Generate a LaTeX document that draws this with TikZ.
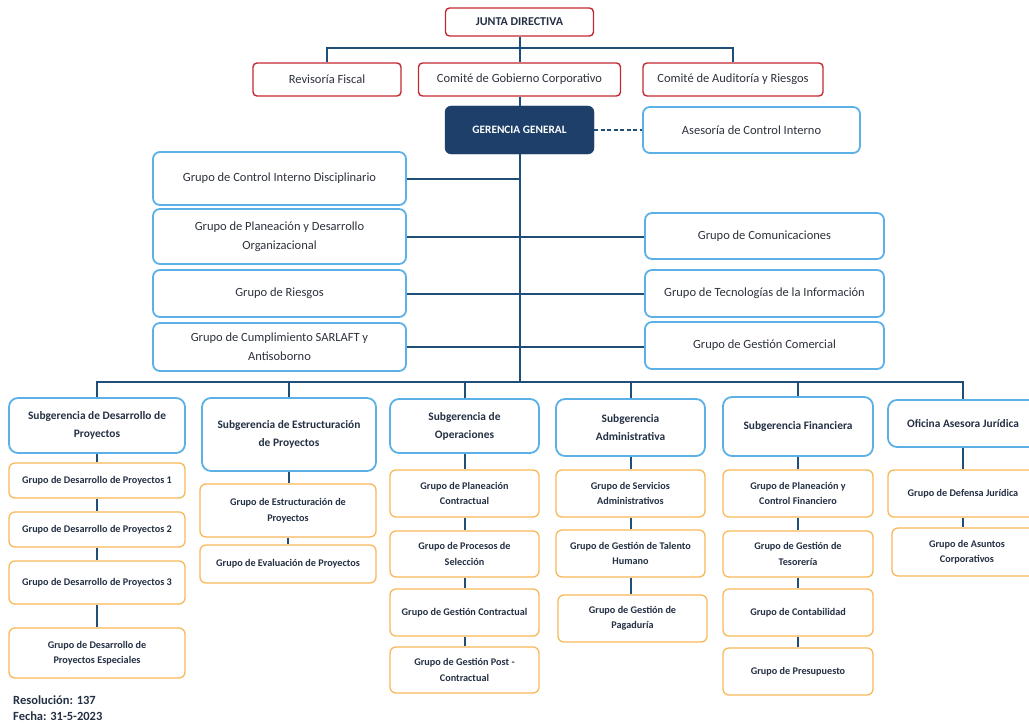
\documentclass[tikz,border=0pt]{standalone}
\usepackage{fontspec}
\setmainfont{Carlito}
\definecolor{jdred}{RGB}{196,40,50}
\definecolor{navy}{RGB}{31,78,121}
\definecolor{gfill}{RGB}{29,63,106}
\definecolor{lblue}{RGB}{91,177,230}
\definecolor{orng}{RGB}{248,185,90}
\definecolor{txt}{RGB}{45,50,60}
\definecolor{btxt}{RGB}{36,48,68}
\tikzset{
  redbox/.style={draw=jdred, line width=1.4pt, rounded corners=4pt, fill=white, text=txt, align=center, inner sep=2pt, font=\fontsize{12.5}{19}\selectfont},
  bluebox/.style={draw=lblue, line width=1.8pt, rounded corners=7pt, fill=white, text=txt, align=center, inner sep=2pt, font=\fontsize{12.5}{19}\selectfont},
  subbox/.style={draw=lblue, line width=1.8pt, rounded corners=9pt, fill=white, text=btxt, align=center, inner sep=2pt, font=\fontsize{11.4}{18}\selectfont\bfseries},
  orbox/.style={draw=orng, line width=1.3pt, rounded corners=6pt, fill=white, text=btxt, align=center, inner sep=2pt, font=\fontsize{10.2}{15.5}\selectfont\bfseries},
  conn/.style={draw=navy, line width=2pt},
}
\begin{document}
\begin{tikzpicture}[x=1pt,y=-1pt]
\clip (0,0) rectangle (1029,725);
\fill[white] (0,0) rectangle (1029,725);
% top
\node[redbox, minimum width=148pt, minimum height=28pt, font=\fontsize{12}{14}\selectfont\bfseries, text=btxt] (junta) at (519.5,22) {JUNTA DIRECTIVA};
\node[redbox, minimum width=148pt, minimum height=33pt] (revisoria) at (327,79.5) {Revisoría Fiscal};
\node[redbox, minimum width=202pt, minimum height=33pt] (comite) at (519.5,79.5) {Comité de Gobierno Corporativo};
\node[redbox, minimum width=180pt, minimum height=33pt] (auditoria) at (733,79.5) {Comité de Auditoría y Riesgos};
\node[draw=gfill, fill=gfill, rounded corners=6pt, text=white, minimum width=149pt, minimum height=48pt, font=\fontsize{11.3}{13}\selectfont\bfseries] (gerencia) at (519.5,130) {GERENCIA GENERAL};
\node[bluebox, minimum width=217pt, minimum height=46pt] (asesoria) at (751.5,130) {Asesoría de Control Interno};
\coordinate (tb) at (519.5,48);
\coordinate (trunk) at (519.5,382);
\draw[conn] (revisoria.north) |- (tb) -| (auditoria.north);
\draw[conn] (junta.south) -- (comite.north);
\draw[conn] (comite.south) -- (gerencia.north);
\draw[conn] (gerencia.south) -- (trunk);
\draw[conn, dashed, dash pattern=on 4pt off 2.5pt] (gerencia.east) -- (asesoria.west);
% middle
\node[bluebox, minimum width=253pt, minimum height=53pt] (gcid) at (279.5,178.5) {Grupo de Control Interno Disciplinario};
\node[bluebox, minimum width=253pt, minimum height=55pt] (gpdo) at (279.5,236.5) {Grupo de Planeación y Desarrollo\\Organizacional};
\node[bluebox, minimum width=253pt, minimum height=47pt] (griesgos) at (279.5,293.5) {Grupo de Riesgos};
\node[bluebox, minimum width=253pt, minimum height=48pt] (gsarlaft) at (279.5,347) {Grupo de Cumplimiento SARLAFT y\\Antisoborno};
\node[bluebox, minimum width=239pt, minimum height=46pt] (gcom) at (764.5,236) {Grupo de Comunicaciones};
\node[bluebox, minimum width=239pt, minimum height=47pt] (gti) at (764.5,293.5) {Grupo de Tecnologías de la Información};
\node[bluebox, minimum width=239pt, minimum height=47pt] (ggc) at (764.5,345.5) {Grupo de Gestión Comercial};
\draw[conn] (gcid.east) -- (gcid.east -| gerencia.south);
\draw[conn] (gpdo.east) -- (gpdo.east -| gcom.west);
\draw[conn] (griesgos.east) -- (griesgos.east -| gti.west);
\draw[conn] (gsarlaft.east) -- (gsarlaft.east -| ggc.west);
% subgerencias
\node[subbox, minimum width=176pt, minimum height=55pt] (s1) at (97,425.5) {Subgerencia de Desarrollo de\\Proyectos};
\node[subbox, minimum width=174pt, minimum height=73pt] (s2) at (289,434.5) {Subgerencia de Estructuración\\de Proyectos};
\node[subbox, minimum width=149pt, minimum height=54pt] (s3) at (464.5,426) {Subgerencia de\\Operaciones};
\node[subbox, minimum width=149pt, minimum height=57pt] (s4) at (630.5,427.5) {Subgerencia\\Administrativa};
\node[subbox, minimum width=150pt, minimum height=59pt] (s5) at (798,426.5) {Subgerencia Financiera};
\node[subbox, minimum width=150pt, minimum height=47pt] (s6) at (963,423.5) {Oficina Asesora Jurídica};
\draw[conn] (s1.north) |- (trunk) -| (s6.north);
\draw[conn] (s2.north) -- (s2.north |- trunk);
\draw[conn] (s3.north) -- (s3.north |- trunk);
\draw[conn] (s4.north) -- (s4.north |- trunk);
\draw[conn] (s5.north) -- (s5.north |- trunk);
% column 1
\node[orbox, minimum width=176pt, minimum height=35pt] (g11) at (97,480.5) {Grupo de Desarrollo de Proyectos 1};
\node[orbox, minimum width=176pt, minimum height=35pt] (g12) at (97,529.5) {Grupo de Desarrollo de Proyectos 2};
\node[orbox, minimum width=176pt, minimum height=43pt] (g13) at (97,582.5) {Grupo de Desarrollo de Proyectos 3};
\node[orbox, minimum width=176pt, minimum height=50pt] (g14) at (97,653) {Grupo de Desarrollo de\\Proyectos Especiales};
\draw[conn] (s1.south) -- (g11.north);
\draw[conn] (g11.south) -- (g12.north);
\draw[conn] (g12.south) -- (g13.north);
\draw[conn] (g13.south) -- (g14.north);
% column 2
\node[orbox, minimum width=176pt, minimum height=53pt] (g21) at (288,510.5) {Grupo de Estructuración de\\Proyectos};
\node[orbox, minimum width=176pt, minimum height=38pt] (g22) at (288,564) {Grupo de Evaluación de Proyectos};
\draw[conn] (s2.south) -- (s2.south |- g21.north);
\draw[conn] (g21.south) -- (g22.north);
% column 3
\node[orbox, minimum width=149pt, minimum height=47pt] (g31) at (464.5,493.5) {Grupo de Planeación\\Contractual};
\node[orbox, minimum width=149pt, minimum height=46pt] (g32) at (464.5,554) {Grupo de Procesos de\\Selección};
\node[orbox, minimum width=149pt, minimum height=47pt] (g33) at (464.5,612.5) {Grupo de Gestión Contractual};
\node[orbox, minimum width=149pt, minimum height=46pt] (g34) at (464.5,670) {Grupo de Gestión Post -\\Contractual};
\draw[conn] (s3.south) -- (g31.north);
\draw[conn] (g31.south) -- (g32.north);
\draw[conn] (g32.south) -- (g33.north);
\draw[conn] (g33.south) -- (g34.north);
% column 4
\node[orbox, minimum width=149pt, minimum height=47pt] (g41) at (630.5,493.5) {Grupo de Servicios\\Administrativos};
\node[orbox, minimum width=149pt, minimum height=47pt] (g42) at (630.5,553.5) {Grupo de Gestión de Talento\\Humano};
\node[orbox, minimum width=149pt, minimum height=47pt] (g43) at (632.5,618.5) {Grupo de Gestión de\\Pagaduría};
\draw[conn] (s4.south) -- (g41.north);
\draw[conn] (g41.south) -- (g42.north);
\draw[conn] (g42.south) -- (g42.south |- g43.north);
% column 5
\node[orbox, minimum width=150pt, minimum height=47pt] (g51) at (798,493.5) {Grupo de Planeación y\\Control Financiero};
\node[orbox, minimum width=150pt, minimum height=46pt] (g52) at (798,554) {Grupo de Gestión de\\Tesorería};
\node[orbox, minimum width=150pt, minimum height=47pt] (g53) at (798,612.5) {Grupo de Contabilidad};
\node[orbox, minimum width=150pt, minimum height=47pt] (g54) at (798,671.5) {Grupo de Presupuesto};
\draw[conn] (s5.south) -- (g51.north);
\draw[conn] (g51.south) -- (g52.north);
\draw[conn] (g52.south) -- (g53.north);
\draw[conn] (g53.south) -- (g54.north);
% column 6
\node[orbox, minimum width=150pt, minimum height=47pt] (g61) at (963,493.5) {Grupo de Defensa Jurídica};
\node[orbox, minimum width=150pt, minimum height=48pt] (g62) at (967,552) {Grupo de Asuntos\\Corporativos};
\draw[conn] (s6.south) -- (g61.north);
\draw[conn] (g61.south) -- (g61.south |- g62.north);
% footer
\node[anchor=north west, align=left, inner sep=0pt, text=btxt, font=\fontsize{12.5}{16}\selectfont\bfseries] (res) at (13,696) {Resolución: 137\\Fecha: 31-5-2023};
\end{tikzpicture}
\end{document}
